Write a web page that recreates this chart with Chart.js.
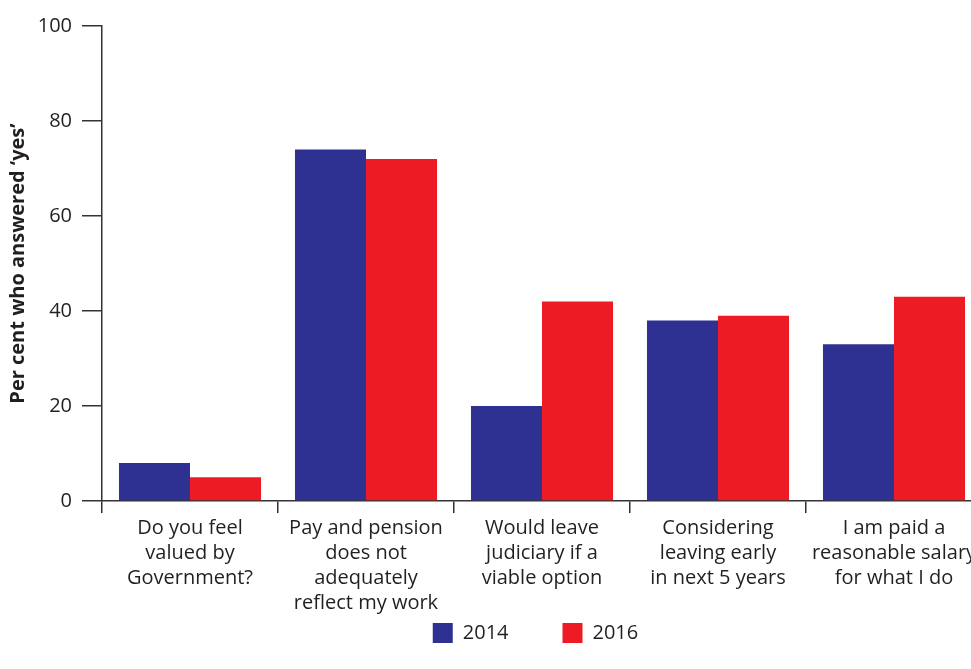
<!DOCTYPE html>
<html>
<head>
<meta charset="utf-8">
<script src="https://cdn.jsdelivr.net/npm/chart.js@4/dist/chart.umd.min.js"></script>
<style>
  html, body { margin: 0; padding: 0; background: #fff; overflow: hidden; }
  #wrap { width: 990px; height: 669px; position: relative; }
</style>
</head>
<body>
<div id="wrap"><canvas id="barChart"></canvas></div>
<script>
// chart values
var categories = [
  ["Do you feel", "valued by", "Government?"],
  ["Pay and pension", "does not", "adequately", "reflect my work"],
  ["Would leave", "judiciary if a", "viable option"],
  ["Considering", "leaving early", "in next 5 years"],
  ["I am paid a", "reasonable salary", "for what I do"]
];
var seriesNames = ["2014", "2016"];
var values2014 = [8, 74, 20, 38, 33];
var values2016 = [5, 72, 42, 39, 43];
var yMin = 0, yMax = 100, yStep = 20;

var FONT = "'Open Sans', 'Noto Sans', sans-serif";
var INK = "#231F20";
var AXIS = "#333333";
var LEGEND_PAD = 54;

// moves the legend to where it sits in the original
var legendPlace = {
  id: 'legendPlace',
  afterLayout: function(chart) {
    var lg = chart.legend;
    var w = lg.right - lg.left;
    lg.left = 535.5 - w / 2;
    lg.right = lg.left + w;
    lg.top = 623 - LEGEND_PAD;
    lg.bottom = chart.height;
    lg.height = lg.bottom - lg.top;
  }
};

var ctx = document.getElementById("barChart").getContext('2d');
var myBarChart = new Chart(ctx, {
  type: 'bar',
  data: {
    labels: categories,
    datasets: [{
      label: seriesNames[0],
      data: values2014,
      backgroundColor: "#2E3192",
      borderWidth: 0,
      categoryPercentage: 0.807,
      barPercentage: 1
    }, {
      label: seriesNames[1],
      data: values2016,
      backgroundColor: "#ED1C24",
      borderWidth: 0,
      categoryPercentage: 0.807,
      barPercentage: 1
    }]
  },
  options: {
    responsive: true,
    maintainAspectRatio: false,
    animation: false,
    layout: { padding: { top: 26, right: 8, bottom: 0, left: 0 } },
    plugins: {
      tooltip: { enabled: false },
      legend: {
        position: 'bottom',
        maxHeight: 45,
        labels: {
          boxWidth: 20,
          boxHeight: 20,
          padding: LEGEND_PAD,
          color: INK,
          font: { family: FONT, size: 20 }
        }
      }
    },
    scales: {
      x: {
        afterFit: function(scale) { scale.height = 669 - 501 - scale.chart.legend.height; },
        grid: { display: true, drawOnChartArea: false, offset: true, tickLength: 12, color: AXIS, lineWidth: 1.5 },
        border: { display: true, color: AXIS, width: 1.5 },
        ticks: {
          padding: 3,
          maxRotation: 0,
          autoSkip: false,
          color: INK,
          font: { family: FONT, size: 20, lineHeight: 1.25 }
        }
      },
      y: {
        min: yMin,
        max: yMax,
        afterFit: function(scale) { scale.width = 102; },
        grid: { display: true, drawOnChartArea: false, tickLength: 20, color: AXIS, lineWidth: 1.5 },
        border: { display: true, color: AXIS, width: 1.5 },
        ticks: {
          stepSize: yStep,
          padding: 10,
          color: INK,
          font: { family: FONT, size: 20 }
        },
        title: {
          display: true,
          text: "Per cent who answered \u2018yes\u2019",
          color: INK,
          padding: { top: 6, bottom: 4 },
          font: { family: FONT, size: 20, weight: 'bold' }
        }
      }
    }
  },
  plugins: [legendPlace]
});
</script>
</body>
</html>
